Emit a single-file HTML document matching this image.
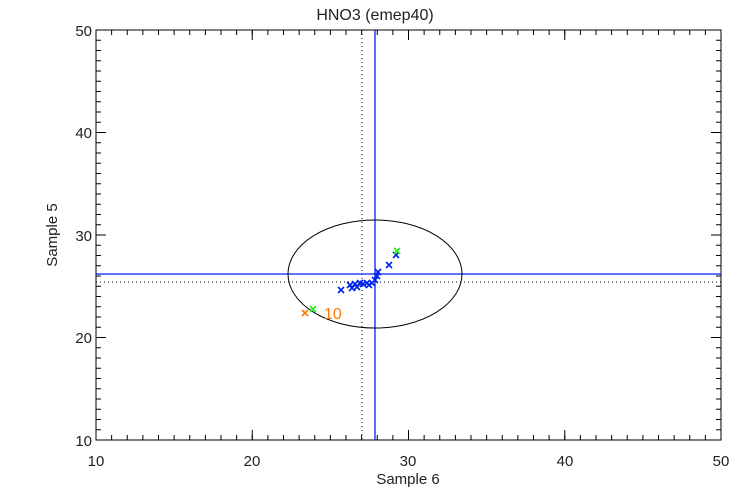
<html><body style="margin:0;background:#fff">
<svg width="750" height="500" xmlns="http://www.w3.org/2000/svg" font-family="Liberation Sans, sans-serif">
<defs><g id="x"><path d="M-3,-3L3,3M-3,3L3,-3" stroke-width="1.6"/></g></defs>
<rect x="96" y="30" width="625" height="410" fill="none" stroke="#000"/>
<g stroke="#000">
<line x1="95.5" y1="437.5" x2="722" y2="437.5" stroke-width="5" stroke-dasharray="1,14.625"/>
<line x1="95.5" y1="435" x2="722" y2="435" stroke-width="10" stroke-dasharray="1,155.25"/>
<line x1="95.5" y1="32.5" x2="722" y2="32.5" stroke-width="5" stroke-dasharray="1,14.625"/>
<line x1="95.5" y1="35" x2="722" y2="35" stroke-width="10" stroke-dasharray="1,155.25"/>
<line x1="98.5" y1="440.5" x2="98.5" y2="29" stroke-width="5" stroke-dasharray="1,9.25"/>
<line x1="101" y1="440.5" x2="101" y2="29" stroke-width="10" stroke-dasharray="1,101.5"/>
<line x1="718.5" y1="440.5" x2="718.5" y2="29" stroke-width="5" stroke-dasharray="1,9.25"/>
<line x1="716" y1="440.5" x2="716" y2="29" stroke-width="10" stroke-dasharray="1,101.5"/>
</g>
<g font-size="15" fill="#222" text-anchor="middle">
<text x="96" y="466">10</text><text x="252" y="466">20</text><text x="408" y="466">30</text><text x="565" y="466">40</text><text x="721" y="466">50</text>
<text x="408" y="484">Sample 6</text>
<text x="375" y="20" font-size="16">HNO3 (emep40)</text>
</g>
<g font-size="15" fill="#222" text-anchor="end">
<text x="92" y="446">10</text><text x="92" y="343">20</text><text x="92" y="241">30</text><text x="92" y="138">40</text><text x="92" y="36">50</text>
</g>
<text transform="translate(57,235) rotate(-90)" font-size="15" fill="#222" text-anchor="middle">Sample 5</text>
<line x1="362" y1="30" x2="362" y2="440" stroke="#000" stroke-dasharray="1,3"/>
<line x1="96" y1="282" x2="721" y2="282" stroke="#000" stroke-dasharray="1,3"/>
<line x1="375" y1="30" x2="375" y2="440" stroke="#0022ff" stroke-width="1.3"/>
<line x1="96" y1="274" x2="721" y2="274" stroke="#0022ff" stroke-width="1.3"/>
<ellipse cx="375" cy="274" rx="87" ry="54" fill="none" stroke="#000"/>
<g stroke="#0022ee">
<use href="#x" x="341" y="290"/><use href="#x" x="350" y="285"/><use href="#x" x="352" y="288"/><use href="#x" x="355" y="284"/><use href="#x" x="357" y="287"/><use href="#x" x="360" y="283"/><use href="#x" x="363" y="284"/><use href="#x" x="367" y="283"/><use href="#x" x="369" y="285"/><use href="#x" x="372" y="283"/><use href="#x" x="375" y="280"/><use href="#x" x="377" y="276"/><use href="#x" x="378" y="272"/><use href="#x" x="389" y="265"/><use href="#x" x="396" y="255"/>
</g>
<g stroke="#22ee22"><use href="#x" x="397" y="251"/><use href="#x" x="313" y="309"/></g>
<g stroke="#ff7700"><use href="#x" x="305" y="313"/></g>
<text x="324" y="319" font-size="16" fill="#ff7700">10</text>
</svg>
</body></html>
